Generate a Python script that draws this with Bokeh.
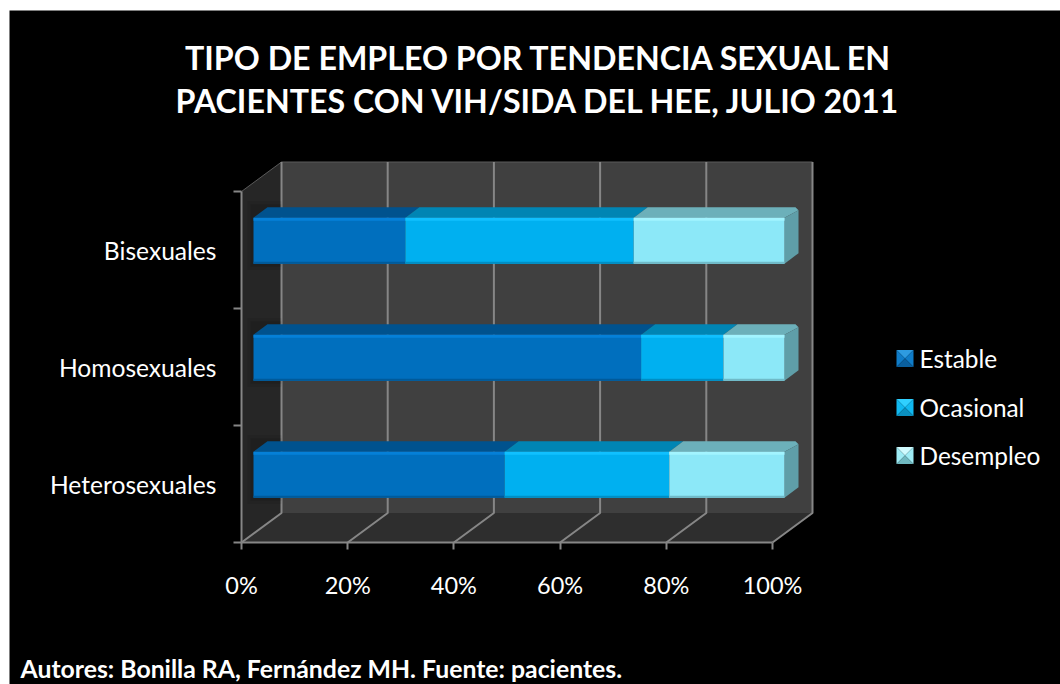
from bokeh.plotting import figure
from bokeh.models import Range1d, LinearAxis, FixedTicker, PrintfTickFormatter
from bokeh.core.properties import value
from bokeh.embed import file_html
from bokeh.resources import INLINE

# ---- data ----
categories = ["Heterosexuales", "Homosexuales", "Bisexuales"]
series_names = ["Estable", "Ocasional", "Desempleo"]
estable = [47.3, 73.0, 28.6]
ocasional = [31.0, 15.5, 43.0]
desempleo = [21.7, 11.5, 28.4]
x_ticks = [0, 20, 40, 60, 80, 100]
title_lines = ["TIPO DE EMPLEO POR TENDENCIA SEXUAL EN", "PACIENTES CON VIH/SIDA DEL HEE, JULIO 2011"]
footer = "Autores: Bonilla RA, Fernández MH. Fuente: pacientes."

# ---- styles ----
front = ["#006FBE", "#00B0F0", "#8CE8F8"]
top_c = ["#00528E", "#0085B4", "#6CB0BA"]
hi = ["#0580D8", "#10C0FF", "#A2F4FF"]
lo = ["#005A9A", "#008EC4", "#6FBAC8"]
side_c = "#5F9EA8"
leg_t = ["#2E9BE0", "#30D0FF", "#D0FBFF"]
leg_l = ["#0F7CC8", "#10B8F0", "#9EECF5"]
leg_r = ["#0F7CC8", "#10B8F0", "#9EECF5"]
leg_b = ["#0A5F9E", "#0A90C0", "#6FB8C0"]

W, H = 1060, 684
PX = 5.31    # px per percent
PY = 117.0   # px per category band
X0, Y0 = 241, 542   # where the axes meet on the page


def xp(px):
    return (px - X0) / PX


def yp(px):
    return (Y0 - px) / PY


p = figure(width=W, height=H, x_range=Range1d(xp(0), xp(W)), y_range=Range1d(yp(H), yp(0)),
           toolbar_location=None, output_backend="svg", min_border=0,
           x_axis_type=None, y_axis_type=None, background_fill_color="white",
           border_fill_color="white", outline_line_color=None)

# black slide, leaving the white strip at the top and left
p.quad(left=xp(9), right=xp(W), bottom=yp(H), top=yp(10), fill_color="black", line_color=None)

DX, DY = 40 / PX, 29.5 / PY
n = len(categories)
GRID = "#868686"

# walls and floor
p.patch([0, DX, DX, 0], [0, DY, n + DY, n], fill_color="#262626", line_color=None)
p.patch([DX, 100 + DX, 100 + DX, DX], [DY, DY, n + DY, n + DY], fill_color="#404040", line_color=None)
p.patch([0, DX, 100 + DX, 100], [0, DY, DY, 0], fill_color="#2E2E2E", line_color=None)
p.line([DX, 100 + DX], [n + DY, n + DY], line_color="#5A5A5A", line_width=1)
p.line([0, DX], [n, n + DY], line_color="#5A5A5A", line_width=1)
for t in x_ticks:
    p.line([t, t + DX, t + DX], [0, DY, n + DY], line_color=GRID, line_width=2)

# bars
BX, BY = 12 / PX, 9.3 / PY
TX, TY = 14 / PX, 10.5 / PY
HALF = 23 / PY
CX, CY = 3 / PX, 3 / PY   # small chamfer at the far end of the bar
for i in range(n):
    cy = i + 0.5 + BY
    # soft shadow on the side wall
    for grow, alpha in [(6, 0.08), (3, 0.1)]:
        p.quad(left=BX - grow / PX, right=DX, bottom=cy - HALF - grow / PY, top=cy + HALF + TY + grow / PY,
               fill_color="black", fill_alpha=alpha, line_color=None)
    start = 0.0
    vals = [estable[i], ocasional[i], desempleo[i]]
    for j, v in enumerate(vals):
        a, b = BX + start, BX + start + v
        if j == len(vals) - 1:
            p.patch([a, a + TX, b + TX - CX, b + TX, b], [cy + HALF, cy + HALF + TY, cy + HALF + TY, cy + HALF + TY - CY, cy + HALF],
                    fill_color=top_c[j], line_color=None)
            p.patch([b, b + TX, b + TX, b], [cy + HALF, cy + HALF + TY - CY, cy - HALF + TY, cy - HALF],
                    fill_color=side_c, line_color=None)
        else:
            p.patch([a, a + TX, b + TX, b], [cy + HALF, cy + HALF + TY, cy + HALF + TY, cy + HALF],
                    fill_color=top_c[j], line_color=None)
        p.quad(left=a, right=b, bottom=cy - HALF, top=cy + HALF, fill_color=front[j], line_color=None)
        p.quad(left=a, right=b, bottom=cy + HALF - 3 / PY, top=cy + HALF, fill_color=hi[j], line_color=None)
        p.quad(left=a, right=b, bottom=cy - HALF, top=cy - HALF + 2 / PY, fill_color=lo[j], line_color=None)
        start += v

# real axes, placed inside the frame
xa = LinearAxis(ticker=FixedTicker(ticks=x_ticks), formatter=PrintfTickFormatter(format="%d%%"),
                fixed_location=0, bounds=(0, 100), axis_line_color=GRID, axis_line_width=2,
                major_tick_line_color=GRID, major_tick_line_width=2, major_tick_in=0, major_tick_out=7,
                minor_tick_line_color=None, major_label_text_color="white", major_label_text_font="Lato",
                major_label_text_font_size="23.5px", major_label_standoff=21)
p.add_layout(xa, "below")
ya = LinearAxis(ticker=FixedTicker(ticks=list(range(n + 1))), fixed_location=0, bounds=(0, n),
                axis_line_color=GRID, axis_line_width=2, major_tick_line_color=GRID,
                major_tick_line_width=2, major_tick_in=0, major_tick_out=8, minor_tick_line_color=None,
                major_label_text_color=None, major_label_text_font_size="1px")
p.add_layout(ya, "left")
yl = LinearAxis(ticker=FixedTicker(ticks=[i + 0.5 for i in range(n)]), fixed_location=0,
                major_label_overrides={i + 0.5: c for i, c in enumerate(categories)},
                axis_line_color=None, major_tick_line_color=None, minor_tick_line_color=None,
                major_tick_in=0, major_tick_out=0, major_label_standoff=25,
                major_label_text_color="white", major_label_text_font="Lato", major_label_text_font_size="24.6px")
p.add_layout(yl, "left")

# title and footer
for line, py in zip(title_lines, [56.5, 99.5]):
    p.text([xp(538.5)], [yp(py)], text=[line], text_color="white", text_font=value("Lato"),
           text_font_style="bold", text_font_size="32.2px", text_align="center", text_baseline="middle")
p.text([xp(20)], [yp(668)], text=[footer], text_color="white", text_font=value("Lato"),
       text_font_style="bold", text_font_size="24.8px", text_align="left", text_baseline="middle")

# legend
for j, (name, py) in enumerate(zip(series_names, [358, 407, 455])):
    l, r, t, b, mx, my = xp(896), xp(913), yp(py - 8.5), yp(py + 8.5), xp(904.5), yp(py)
    p.patch([l, r, mx], [t, t, my], fill_color=leg_t[j], line_color=None)
    p.patch([l, l, mx], [t, b, my], fill_color=leg_l[j], line_color=None)
    p.patch([r, r, mx], [t, b, my], fill_color=leg_r[j], line_color=None)
    p.patch([l, r, mx], [b, b, my], fill_color=leg_b[j], line_color=None)
    p.text([xp(919)], [yp(py - 0.5)], text=[name], text_color="white", text_font=value("Lato"),
           text_font_size="24.4px", text_align="left", text_baseline="middle")

open("out.html", "w").write(file_html(p, INLINE))
